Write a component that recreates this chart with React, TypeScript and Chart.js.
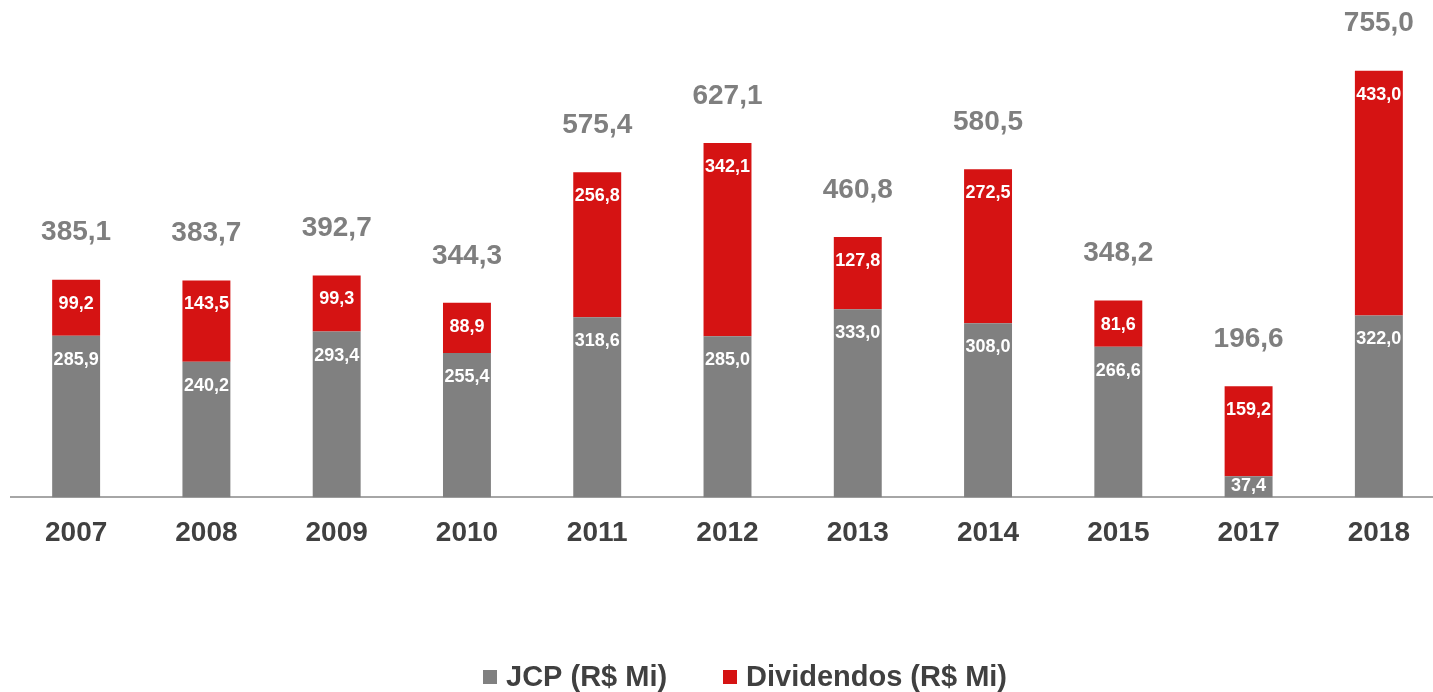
import React, { useEffect, useRef } from "react";
import { Chart, registerables } from "chart.js";

Chart.register(...registerables);

const categories = ["2007", "2008", "2009", "2010", "2011", "2012", "2013", "2014", "2015", "2017", "2018"];
const jcpValues = [285.9, 240.2, 293.4, 255.4, 318.6, 285.0, 333.0, 308.0, 266.6, 37.4, 322.0];
const dividendValues = [99.2, 143.5, 99.3, 88.9, 256.8, 342.1, 127.8, 272.5, 81.6, 159.2, 433.0];
const totalLabels = ["385,1", "383,7", "392,7", "344,3", "575,4", "627,1", "460,8", "580,5", "348,2", "196,6", "755,0"];
const seriesNames = ["JCP (R$ Mi)", "Dividendos (R$ Mi)"];

const GRAY = "#808080";
const RED = "#D51313";
const FONT = "'Liberation Sans', Arial, sans-serif";

const fmt = (v: number) => v.toFixed(1).replace(".", ",");

const labelPlugin = {
  id: "customLabels",
  afterDatasetsDraw(chart: any) {
    const { ctx } = chart;
    const yScale = chart.scales.y;
    ctx.save();
    ctx.textAlign = "center";
    ctx.textBaseline = "middle";
    // segment labels
    chart.data.datasets.forEach((ds: any, di: number) => {
      const meta = chart.getDatasetMeta(di);
      meta.data.forEach((bar: any, i: number) => {
        const top = bar.y;
        const bottom = bar.base;
        const y = Math.min(top + 24, bottom - 11);
        ctx.font = `bold 18px ${FONT}`;
        ctx.fillStyle = "#ffffff";
        ctx.fillText(fmt(ds.data[i]), bar.x, y);
      });
    });
    // totals
    const meta1 = chart.getDatasetMeta(1);
    meta1.data.forEach((bar: any, i: number) => {
      const total = jcpValues[i] + dividendValues[i];
      const y = yScale.getPixelForValue(total) - 47;
      ctx.font = `bold 28px ${FONT}`;
      ctx.fillStyle = "#7F7F7F";
      ctx.fillText(totalLabels[i], bar.x, y);
    });
    // legend
    const legendY = 677;
    const items = [
      { color: GRAY, text: seriesNames[0], x: 483 },
      { color: RED, text: seriesNames[1], x: 723 },
    ];
    ctx.textAlign = "left";
    ctx.font = `bold 29px ${FONT}`;
    items.forEach((it) => {
      ctx.fillStyle = it.color;
      ctx.fillRect(it.x, legendY - 7, 14, 14);
      ctx.fillStyle = "#404040";
      ctx.fillText(it.text, it.x + 23, legendY + 1);
    });
    ctx.restore();
  },
};

export default function App() {
  const canvasRef = useRef<HTMLCanvasElement | null>(null);

  useEffect(() => {
    if (!canvasRef.current) return;
    const chart = new Chart(canvasRef.current, {
      type: "bar",
      data: {
        labels: categories,
        datasets: [
          {
            label: seriesNames[0],
            data: jcpValues,
            backgroundColor: GRAY,
            borderWidth: 0,
            barPercentage: 0.368,
            categoryPercentage: 1,
          },
          {
            label: seriesNames[1],
            data: dividendValues,
            backgroundColor: RED,
            borderWidth: 0,
            barPercentage: 0.368,
            categoryPercentage: 1,
          },
        ],
      },
      options: {
        responsive: false,
        animation: false,
        layout: { padding: { left: 11, right: 6, top: 0, bottom: 123 } },
        plugins: {
          legend: { display: false },
          tooltip: { enabled: false },
        },
        scales: {
          x: {
            stacked: true,
            grid: { display: false, drawTicks: false },
            border: { display: true, color: "#A6A6A6", width: 2 },
            ticks: {
              color: "#404040",
              font: { family: FONT, size: 28, weight: "bold" },
              padding: 19,
              maxRotation: 0,
              autoSkip: false,
            },
          },
          y: {
            stacked: true,
            display: false,
            min: 0,
            max: 880,
          },
        },
      },
      plugins: [labelPlugin],
    });
    return () => chart.destroy();
  }, []);

  return (
    <div
      style={{
        position: "fixed",
        left: 0,
        top: 0,
        width: 1433,
        height: 692,
        overflow: "hidden",
        background: "#ffffff",
      }}
    >
      <canvas ref={canvasRef} width={1450} height={692} style={{ width: 1450, height: 692, display: "block" }} />
    </div>
  );
}
